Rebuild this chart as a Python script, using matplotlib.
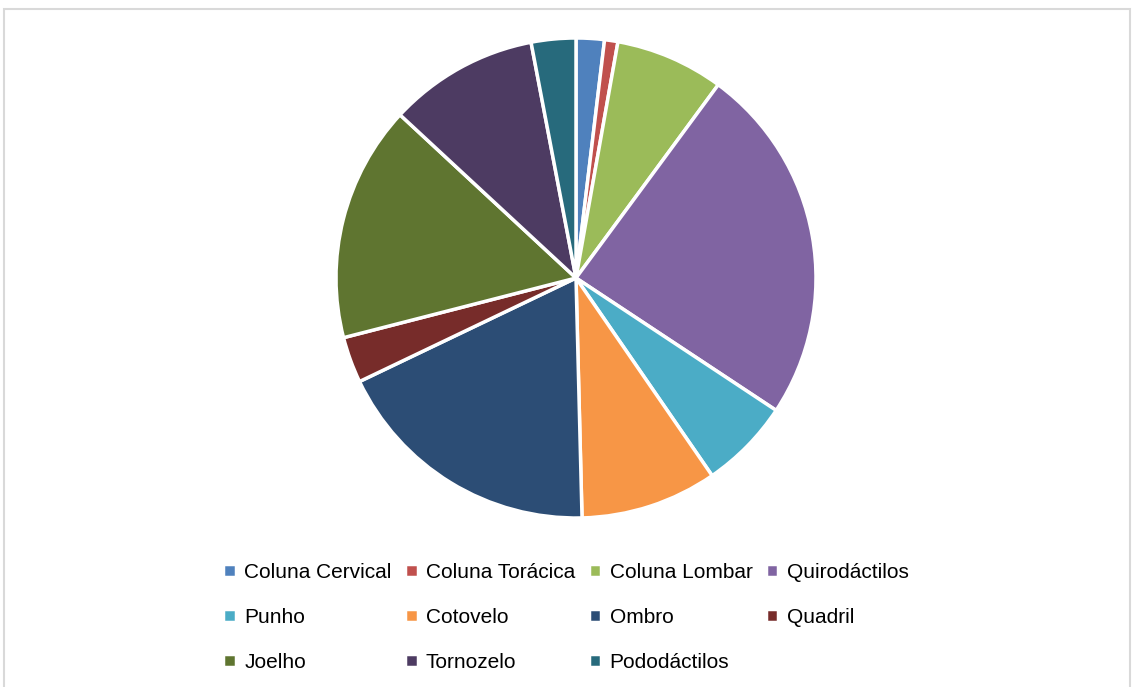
import matplotlib.pyplot as plt
from matplotlib.patches import Rectangle

# percentage share of each region (clockwise from 12 o'clock)
labels = ["Coluna Cervical", "Coluna Torácica", "Coluna Lombar", "Quirodáctilos",
          "Punho", "Cotovelo", "Ombro", "Quadril",
          "Joelho", "Tornozelo", "Pododáctilos"]
values = [1.9, 0.9, 7.3, 24.2, 6.1, 9.2, 18.3, 3.1, 15.9, 10.1, 3.0]
colors = ["#4F81BD", "#C0504D", "#9BBB59", "#8064A2", "#4BACC6", "#F79646",
          "#2C4D75", "#772C2A", "#5F7530", "#4D3B62", "#276A7C"]

plt.rcParams['font.family'] = ['Liberation Sans', 'DejaVu Sans']

fig = plt.figure(figsize=(11.32, 6.87), dpi=100)

# light grey frame of the chart area
fig.patches.append(Rectangle((4 / 1132, -0.01), 1126 / 1132, 1 - 9 / 687 + 0.01,
                             transform=fig.transFigure, fill=False,
                             edgecolor="#d9d9d9", linewidth=1.5))

ax = fig.add_axes([336 / 1132, 1 - 518 / 687, 480 / 1132, 480 / 687])
wedges, _ = ax.pie(values, colors=colors, startangle=90, counterclock=False,
                   radius=1, wedgeprops=dict(edgecolor="white", linewidth=2.5))
ax.set_xlim(-1.0, 1.0)
ax.set_ylim(-1.0, 1.0)
ax.set_aspect("equal")
ax.axis("off")

# legend reads row by row, matplotlib fills column by column -> reorder
ncol = 4
order = [i for c in range(ncol) for i in range(c, len(labels), ncol)]
fig.legend([wedges[i] for i in order], [labels[i] for i in order],
           ncol=ncol, loc="upper center", bbox_to_anchor=(0.5, 1 - 544 / 687),
           frameon=False, fontsize=15, handlelength=0.6, handleheight=0.6,
           handletextpad=0.4, columnspacing=0.65, labelspacing=1.25)

fig.savefig("out.png", dpi=100)
